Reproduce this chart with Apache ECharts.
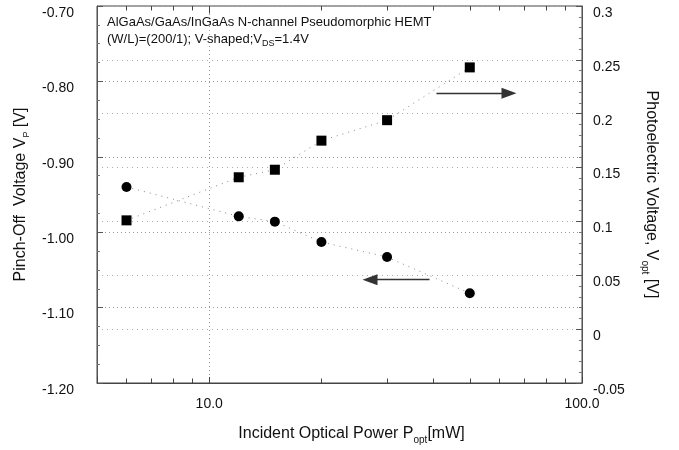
<!DOCTYPE html>
<html>
<head>
<meta charset="utf-8">
<script src="https://cdn.jsdelivr.net/npm/echarts@6/dist/echarts.min.js"></script>
<style>
html, body { margin: 0; padding: 0; background: #fff; }
#chart { width: 679px; height: 450px; }
</style>
</head>
<body>
<div id="chart"></div>
<script>
// incident optical power [mW]
var power = [6, 12, 15, 20, 30, 50];
// pinch-off voltage Vp [V] (left axis, circles)
var pinchOff = [-0.940, -0.979, -0.986, -1.013, -1.033, -1.081];
// photoelectric voltage Vopt [V] (right axis, squares)
var photoVolt = [0.101, 0.141, 0.148, 0.175, 0.194, 0.243];
// minor log ticks on the x axis
var minorTicks = [6, 7, 8, 9, 20, 30, 40, 50, 60, 70, 80, 90];
// arrows: [x from, x to, y]
var arrowLeft = [39, 27, -1.063];
var arrowRight = [40.7, 63.7, 0.219];

var font = 'Liberation Sans, Arial, sans-serif';

function zip(xs, ys) {
	var out = [];
	for (var i = 0; i < xs.length; i++) {
		out.push([xs[i], ys[i]]);
	}
	return out;
}

// short tick marks on the top and bottom frame
var tickLines = [];
for (var i = 0; i < minorTicks.length; i++) {
	tickLines.push([{ coord: [minorTicks[i], -1.2] }, { coord: [minorTicks[i], -1.194] }]);
	tickLines.push([{ coord: [minorTicks[i], -0.7] }, { coord: [minorTicks[i], -0.706] }]);
}
tickLines.push([{ coord: [10, -0.7] }, { coord: [10, -0.71] }]);

var arrowStyle = { color: '#333', width: 1.3, type: 'solid' };

var myChart = echarts.init(document.getElementById('chart'));
var option = {
	backgroundColor: '#fff',
	animation: false,
	textStyle: { fontFamily: font, color: '#111' },
	title: {
		left: 102,
		top: 9,
		text: 'AlGaAs/GaAs/InGaAs N-channel Pseudomorphic HEMT\n(W/L)=(200/1); V-shaped;V{s|DS}=1.4V',
		textStyle: {
			fontFamily: font,
			fontSize: 13,
			fontWeight: 'normal',
			color: '#111',
			lineHeight: 17,
			rich: {
				s: { fontSize: 9, lineHeight: 17, verticalAlign: 'bottom', fontFamily: font, color: '#111' }
			}
		}
	},
	grid: {
		left: 97,
		right: 97,
		top: 6,
		bottom: 64,
		show: true,
		borderColor: '#444',
		borderWidth: 1
	},
	xAxis: {
		type: 'log',
		logBase: 10,
		min: 5,
		max: 100,
		name: 'Incident Optical Power P{s|opt}[mW]',
		nameLocation: 'middle',
		nameGap: 40,
		nameTextStyle: {
			fontFamily: font,
			fontSize: 16,
			color: '#111',
			lineHeight: 22,
			padding: [0, 0, 0, 24],
			rich: {
				s: { fontSize: 10, lineHeight: 22, verticalAlign: 'bottom', fontFamily: font, color: '#111' }
			}
		},
		axisLine: { show: true, onZero: false, lineStyle: { color: '#444' } },
		axisTick: { inside: true, length: 6, lineStyle: { color: '#444' } },
		axisLabel: {
			fontSize: 14,
			color: '#111',
			margin: 14,
			showMaxLabel: true,
			formatter: function(v) {
				var l = Math.log(v) / Math.LN10;
				if (Math.abs(l - Math.round(l)) < 1e-6) {
					return v.toFixed(1);
				}
				return '';
			}
		},
		splitLine: { show: true, lineStyle: { color: '#999', type: [1, 3] } }
	},
	yAxis: [{
		type: 'value',
		min: -1.2,
		max: -0.7,
		interval: 0.1,
		position: 'left',
		name: 'Pinch-Off  Voltage V{s|P} [V]',
		nameLocation: 'middle',
		nameGap: 62,
		nameTextStyle: {
			fontFamily: font,
			fontSize: 16,
			color: '#111',
			lineHeight: 22,
			rich: {
				s: { fontSize: 9, lineHeight: 22, verticalAlign: 'bottom', fontFamily: font, color: '#111' }
			}
		},
		axisLine: { show: true, onZero: false, lineStyle: { color: '#555' } },
		axisTick: { inside: true, length: 6, lineStyle: { color: '#555' } },
		minorTick: { show: true, splitNumber: 4, length: 3, lineStyle: { color: '#777' } },
		axisLabel: {
			fontSize: 14,
			color: '#111',
			margin: 23,
			verticalAlign: 'top',
			formatter: function(v) { return v.toFixed(2); }
		},
		splitLine: { show: true, lineStyle: { color: '#999', type: [1, 3] } }
	}, {
		type: 'value',
		min: -0.05,
		max: 0.3,
		interval: 0.05,
		position: 'right',
		name: 'Photoelectric Voltage, V{s|opt} [V]',
		nameLocation: 'middle',
		nameRotate: -90,
		nameGap: 58,
		nameTextStyle: {
			fontFamily: font,
			fontSize: 16,
			color: '#111',
			lineHeight: 22,
			rich: {
				s: { fontSize: 10, lineHeight: 22, verticalAlign: 'bottom', fontFamily: font, color: '#111' }
			}
		},
		axisLine: { show: true, onZero: false, lineStyle: { color: '#555' } },
		axisTick: { inside: true, length: 6, lineStyle: { color: '#555' } },
		minorTick: { show: true, splitNumber: 5, length: 3, lineStyle: { color: '#777' } },
		axisLabel: {
			fontSize: 14,
			color: '#111',
			margin: 11,
			verticalAlign: 'top'
		},
		splitLine: { show: true, lineStyle: { color: '#aaa', type: [1, 4] } }
	}],
	series: [{
		name: 'Vp',
		type: 'line',
		yAxisIndex: 0,
		data: zip(power, pinchOff),
		symbol: 'circle',
		symbolSize: 10,
		itemStyle: { color: '#000' },
		lineStyle: { color: '#888', width: 1, type: [1, 5] },
		markLine: {
			silent: true,
			symbol: ['none', 'none'],
			label: { show: false },
			lineStyle: { color: '#444', width: 1, type: 'solid' },
			data: tickLines.concat([[
				{ coord: [arrowLeft[0], arrowLeft[2]], lineStyle: arrowStyle },
				{ coord: [arrowLeft[1], arrowLeft[2]], symbol: 'triangle', symbolSize: [11, 15] }
			]])
		}
	}, {
		name: 'Vopt',
		type: 'line',
		yAxisIndex: 1,
		data: zip(power, photoVolt),
		symbol: 'rect',
		symbolSize: 10,
		itemStyle: { color: '#000' },
		lineStyle: { color: '#888', width: 1, type: [1, 5] },
		markLine: {
			silent: true,
			symbol: ['none', 'none'],
			label: { show: false },
			lineStyle: arrowStyle,
			data: [[
				{ coord: [arrowRight[0], arrowRight[2]] },
				{ coord: [arrowRight[1], arrowRight[2]], symbol: 'triangle', symbolSize: [11, 15] }
			]]
		}
	}]
};
myChart.setOption(option);
</script>
</body>
</html>
